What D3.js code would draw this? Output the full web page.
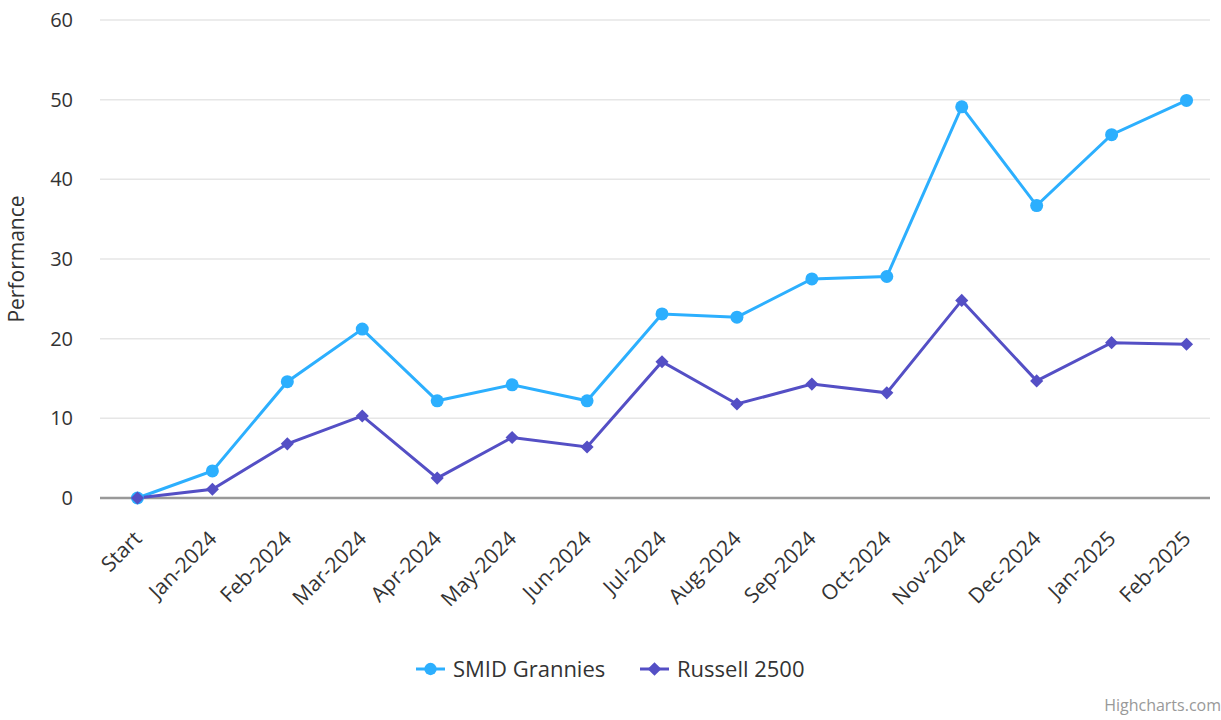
<!DOCTYPE html>
<html>
<head>
<meta charset="utf-8">
<script src="https://cdn.jsdelivr.net/npm/d3@7"></script>
<style>
  body { margin: 0; background: #fff; }
  text { font-family: "Open Sans", "Noto Sans", sans-serif; }
</style>
</head>
<body>
<script>
var categories = ["Start", "Jan-2024", "Feb-2024", "Mar-2024", "Apr-2024", "May-2024", "Jun-2024",
    "Jul-2024", "Aug-2024", "Sep-2024", "Oct-2024", "Nov-2024", "Dec-2024", "Jan-2025", "Feb-2025"];
var smidValues = [0, 3.4, 14.6, 21.2, 12.2, 14.2, 12.2, 23.1, 22.7, 27.5, 27.8, 49.1, 36.7, 45.6, 49.9];
var russellValues = [0, 1.1, 6.8, 10.3, 2.5, 7.6, 6.4, 17.1, 11.8, 14.3, 13.2, 24.8, 14.7, 19.5, 19.3];
var yTicks = [0, 10, 20, 30, 40, 50, 60];
var seriesNames = ["SMID Grannies", "Russell 2500"];

var svgWidth = 1221;
var svgHeight = 720;
var margin = {top: 20, right: 11, bottom: 222, left: 100};

var svg = d3.select("body")
        .append("svg")
        .attr("width", svgWidth)
        .attr("height", svgHeight);

var xScale = d3.scalePoint()
        .domain(categories)
        .range([margin.left, 1224])
        .padding(0.5);

var yScale = d3.scaleLinear()
        .domain([0, 60])
        .range([svgHeight - margin.bottom, margin.top]);

// grid lines
svg.append("g")
        .selectAll("line")
        .data(yTicks.filter(function (d) { return d > 0; }))
        .enter().append("line")
        .attr("x1", margin.left)
        .attr("x2", svgWidth - margin.right)
        .attr("y1", function (d) { return yScale(d); })
        .attr("y2", function (d) { return yScale(d); })
        .attr("stroke", "#e6e6e6")
        .attr("stroke-width", 1.5);

var yAxis = d3.axisLeft(yScale)
        .tickValues(yTicks)
        .tickSize(0)
        .tickPadding(27);

var yG = svg.append("g")
        .attr("transform", "translate(" + margin.left + ",0)")
        .call(yAxis);
yG.select(".domain").remove();
yG.selectAll("text")
        .attr("font-size", 20)
        .attr("fill", "#333")
        .attr("font-family", "'Open Sans', sans-serif");

var xAxis = d3.axisBottom(xScale)
        .tickSize(0)
        .tickPadding(0);

var xG = svg.append("g")
        .attr("transform", "translate(0," + yScale(0) + ")")
        .call(xAxis);
xG.select(".domain").remove();
xG.selectAll("text")
        .attr("font-size", 21)
        .attr("fill", "#333")
        .attr("font-family", "'Open Sans', sans-serif")
        .attr("text-anchor", "end")
        .attr("dy", null)
        .attr("y", 0)
        .attr("transform", "translate(5,42) rotate(-45)");

// x axis line
svg.append("line")
        .attr("x1", margin.left)
        .attr("x2", svgWidth - margin.right)
        .attr("y1", yScale(0))
        .attr("y2", yScale(0))
        .attr("stroke", "#999")
        .attr("stroke-width", 2.5);

svg.append("text")
        .attr("transform", "translate(24," + ((yScale(0) + yScale(60)) / 2) + ") rotate(-90)")
        .attr("text-anchor", "middle")
        .attr("font-size", 21)
        .attr("fill", "#333")
        .text("Performance");

var lineFunc = d3.line()
        .x(function (d, i) { return xScale(categories[i]); })
        .y(function (d) { return yScale(d); });

var colors = ["#2caffe", "#544fc5"];

svg.append("path")
        .attr("d", lineFunc(smidValues))
        .attr("stroke", colors[0])
        .attr("stroke-width", 3)
        .attr("fill", "none");

svg.append("path")
        .attr("d", lineFunc(russellValues))
        .attr("stroke", colors[1])
        .attr("stroke-width", 3)
        .attr("fill", "none");

svg.append("g")
        .selectAll("circle")
        .data(smidValues)
        .enter().append("circle")
        .attr("cx", function (d, i) { return xScale(categories[i]); })
        .attr("cy", function (d) { return yScale(d); })
        .attr("r", 6.5)
        .attr("fill", colors[0]);

var diamond = d3.symbol().type(d3.symbolDiamond2).size(110);

svg.append("g")
        .selectAll("path")
        .data(russellValues)
        .enter().append("path")
        .attr("d", diamond)
        .attr("transform", function (d, i) {
            return "translate(" + xScale(categories[i]) + "," + yScale(d) + ")";
        })
        .attr("fill", colors[1]);

// legend
var legendY = 669;
var legendItems = [{name: seriesNames[0], x: 416, color: colors[0], type: "circle"},
    {name: seriesNames[1], x: 640, color: colors[1], type: "diamond"}];

var lg = svg.append("g")
        .selectAll("g")
        .data(legendItems)
        .enter().append("g")
        .attr("transform", function (d) { return "translate(" + d.x + "," + legendY + ")"; });

lg.append("line")
        .attr("x1", 0)
        .attr("x2", 29)
        .attr("stroke", function (d) { return d.color; })
        .attr("stroke-width", 3);

lg.append("path")
        .attr("d", function (d) {
            return d.type === "circle" ? d3.symbol().type(d3.symbolCircle).size(120)() :
                d3.symbol().type(d3.symbolDiamond2).size(120)();
        })
        .attr("transform", "translate(14.5,0)")
        .attr("fill", function (d) { return d.color; });

lg.append("text")
        .attr("x", 37)
        .attr("dy", "0.35em")
        .attr("font-size", 22)
        .attr("fill", "#333")
        .text(function (d) { return d.name; });

svg.append("text")
        .attr("x", 1221)
        .attr("y", 711)
        .attr("text-anchor", "end")
        .attr("font-size", 16)
        .attr("fill", "#999")
        .text("Highcharts.com");
</script>
</body>
</html>
